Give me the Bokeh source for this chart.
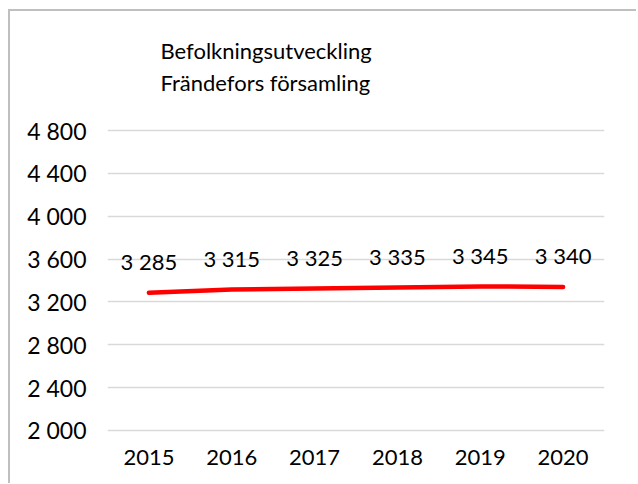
from bokeh.plotting import figure
from bokeh.models import FactorRange, Range1d, FixedTicker, Title, ColumnDataSource
from bokeh.core.properties import value
from bokeh.embed import file_html
from bokeh.resources import INLINE

years = ["2015", "2016", "2017", "2018", "2019", "2020"]
population = [3285, 3315, 3325, 3335, 3345, 3340]
point_labels = ["3 285", "3 315", "3 325", "3 335", "3 345", "3 340"]
y_ticks = [2000, 2400, 2800, 3200, 3600, 4000, 4400, 4800]
y_tick_labels = ["2 000", "2 400", "2 800", "3 200", "3 600", "4 000", "4 400", "4 800"]
title_lines = ["Befolkningsutveckling", "Frändefors församling"]

FONT = "Lato"
FS = "22px"

p = figure(
    x_range=FactorRange(factors=years, range_padding=0),
    y_range=Range1d(1980, 4820),
    width=626, height=472,
    frame_width=497, frame_height=304,
    min_border_left=97, min_border_top=117,
    min_border_right=32, min_border_bottom=51,
    output_backend="svg", toolbar_location=None,
    background_fill_color="white", border_fill_color="white",
)
p.styles = {"margin-left": "8px", "margin-top": "9px",
            "border-left": "2px solid #bfbfbf", "border-top": "2px solid #bfbfbf"}
p.outline_line_color = None

src = ColumnDataSource(dict(x=years, y=population, t=point_labels))
p.line("x", "y", source=src, line_color="#ff0000", line_width=4.5, line_cap="round", line_join="round")
p.text("x", "y", text="t", source=src, y_offset=-31, text_align="center", text_baseline="middle",
       text_font=value(FONT), text_font_size=FS, text_color="#000000")

p.xgrid.grid_line_color = None
p.ygrid.grid_line_color = "#d9d9d9"
p.ygrid.grid_line_width = 1.5
p.ygrid.ticker = FixedTicker(ticks=y_ticks)

ya = p.yaxis[0]
ya.ticker = FixedTicker(ticks=y_ticks)
ya.major_label_overrides = {t: l for t, l in zip(y_ticks, y_tick_labels)}
ya.axis_line_color = None
ya.major_tick_line_color = None
ya.minor_tick_line_color = None
ya.major_tick_out = 0
ya.major_label_standoff = 21
ya.major_label_text_font = FONT
ya.major_label_text_font_size = "23px"
ya.major_label_text_color = "#000000"

xa = p.xaxis[0]
xa.axis_line_color = None
xa.major_tick_line_color = None
xa.major_tick_out = 0
xa.major_label_standoff = 17
xa.major_label_text_font = FONT
xa.major_label_text_font_size = FS
xa.major_label_text_color = "#000000"

# a blank third line lifts the two title lines within the title panel
p.add_layout(Title(text="\n".join(title_lines + ["\u00a0"]), align="left", offset=53, standoff=2,
                   text_font=FONT, text_font_size="22px", text_font_style="normal",
                   text_line_height=1.18, text_color="#000000"), "above")

open("out.html", "w").write(file_html(p, INLINE))
